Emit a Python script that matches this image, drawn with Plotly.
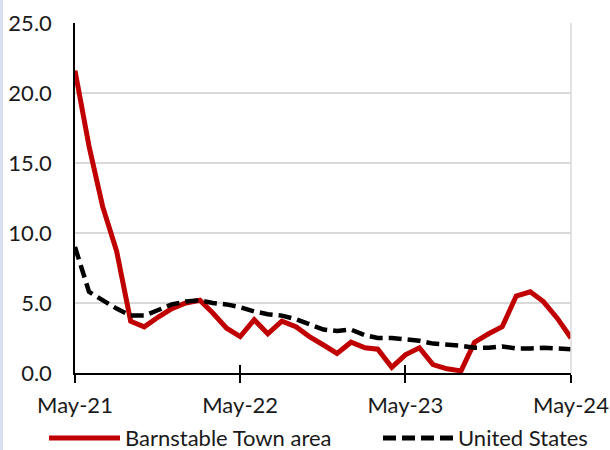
import plotly.graph_objects as go
import pandas as pd

months = pd.date_range("2021-05-01", "2024-05-01", freq="MS")

barnstable = [21.6, 16.2, 11.9, 8.7, 3.7, 3.3, 4.0, 4.6, 5.0, 5.2, 4.3, 3.2, 2.6,
              3.8, 2.8, 3.7, 3.3, 2.6, 2.0, 1.4, 2.2, 1.8, 1.7, 0.4, 1.3, 1.8,
              0.6, 0.3, 0.15, 2.2, 2.8, 3.3, 5.5, 5.8, 5.1, 3.9, 2.5]
united_states = [9.0, 5.8, 5.2, 4.6, 4.1, 4.1, 4.5, 4.9, 5.1, 5.2, 5.0, 4.9, 4.7,
                 4.4, 4.2, 4.1, 3.85, 3.5, 3.1, 3.0, 3.1, 2.7, 2.5, 2.5, 2.4, 2.3,
                 2.1, 2.05, 1.95, 1.8, 1.8, 1.9, 1.75, 1.75, 1.8, 1.75, 1.7]
x_ticks = ["2021-05-01", "2022-05-01", "2023-05-01", "2024-05-01"]
x_tick_labels = ["May-21", "May-22", "May-23", "May-24"]
y_ticks = [0, 5, 10, 15, 20, 25]
y_tick_labels = ["0.0", "5.0", "10.0", "15.0", "20.0", "25.0"]
series_names = ["Barnstable Town area", "United States"]

RED = "#c00000"
FONT = "Lato"
FS = 22
TXT = "#1a1a1a"

fig = go.Figure()
fig.add_trace(go.Scatter(x=months, y=barnstable, mode="lines", name=series_names[0],
                         line=dict(color=RED, width=5)))
fig.add_trace(go.Scatter(x=months, y=united_states, mode="lines", name=series_names[1],
                         line=dict(color="black", width=4.5, dash="13px,6px")))

xr = ["2021-05-01", "2024-05-01"]
fig.update_layout(
    width=610, height=450,
    margin=dict(l=75, r=39, t=23, b=77, autoexpand=False),
    paper_bgcolor="white", plot_bgcolor="white",
    showlegend=False,
    font=dict(family=FONT, size=FS, color=TXT),
    xaxis=dict(type="date", range=xr, tickvals=x_ticks, ticktext=x_tick_labels,
               showgrid=False, showline=True, linecolor="black", linewidth=1.5,
               ticks="outside", ticklen=8, tickwidth=1.5, tickcolor="black",
               zeroline=False, ticklabelstandoff=4),
    xaxis2=dict(type="date", range=xr, tickvals=x_ticks, overlaying="x",
                showgrid=False, showline=False, showticklabels=False,
                ticks="inside", ticklen=8, tickwidth=1.5, tickcolor="black",
                zeroline=False),
    yaxis=dict(range=[0, 25], tickvals=y_ticks, ticktext=y_tick_labels,
               showgrid=True, gridcolor="#d9d9d9", gridwidth=1.5,
               showline=True, linecolor="black", linewidth=1.5,
               ticks="", zeroline=False, ticklabelstandoff=17),
)
# invisible trace on xaxis2 so its ticks render
fig.add_trace(go.Scatter(x=[months[0]], y=[0], xaxis="x2", mode="markers",
                         marker=dict(opacity=0), hoverinfo="skip", showlegend=False))

# right plot border
fig.add_shape(type="line", xref="paper", yref="paper", x0=1, x1=1, y0=0, y1=1,
              line=dict(color="#d9d9d9", width=1.5))
# left light-blue strip
fig.add_shape(type="rect", xref="paper", yref="paper", x0=-75/496, x1=-72/496,
              y0=-77/350, y1=1 + 23/350, line=dict(width=0), fillcolor="#d6e0f0")

# custom legend
def px_x(p):
    return (p - 75) / 496
def px_y(p):
    return (373 - p) / 350

ly = 437
fig.add_shape(type="line", xref="paper", yref="paper", x0=px_x(49), x1=px_x(120),
              y0=px_y(ly + 1), y1=px_y(ly + 1), line=dict(color=RED, width=5))
fig.add_annotation(xref="paper", yref="paper", x=px_x(124), y=px_y(ly), text=series_names[0],
                   showarrow=False, xanchor="left", yanchor="middle", borderpad=0,
                   font=dict(family=FONT, size=FS, color=TXT))
fig.add_shape(type="line", xref="paper", yref="paper", x0=px_x(383), x1=px_x(456),
              y0=px_y(ly + 1), y1=px_y(ly + 1), line=dict(color="black", width=5, dash="13px,6px"))
fig.add_annotation(xref="paper", yref="paper", x=px_x(457), y=px_y(ly), text=series_names[1],
                   showarrow=False, xanchor="left", yanchor="middle", borderpad=0,
                   font=dict(family=FONT, size=FS, color=TXT))

fig.write_html("out.html", config={"displayModeBar": False},
               post_script="document.body.style.margin='0';document.body.style.padding='0';"
                           "document.documentElement.style.margin='0';")
